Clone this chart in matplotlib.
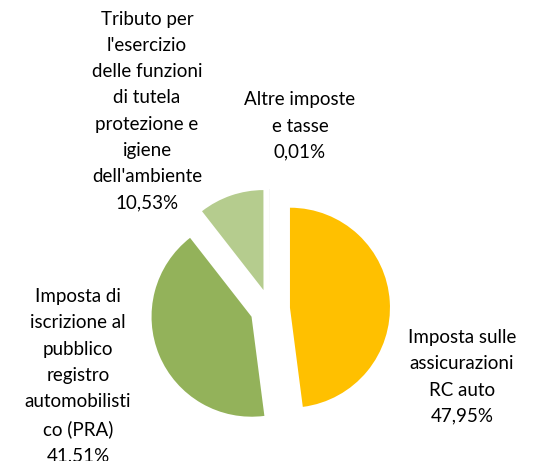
import matplotlib
matplotlib.use("Agg")
import matplotlib.pyplot as plt

categories = ["Imposta sulle\nassicurazioni\nRC auto",
              "Imposta di\niscrizione al\npubblico\nregistro\nautomobilisti\nco (PRA)",
              "Tributo per\nl'esercizio\ndelle funzioni\ndi tutela\nprotezione e\nigiene\ndell'ambiente",
              "Altre imposte\ne tasse"]
values = [47.95, 41.51, 10.53, 0.01]
pct_labels = ["47,95%", "41,51%", "10,53%", "0,01%"]
colors = ["#FFC000", "#93B25A", "#B5CC8E", "#7F7F7F"]

# label centres in pixel coordinates (x, y of the block centre)
label_pos_px = [(462, 377), (78, 376), (147, 111), (300, 126)]

W, H = 538, 461
CX, CY, R = 270, 309, 100

plt.rcParams['font.family'] = ['Lato', 'DejaVu Sans']
fig = plt.figure(figsize=(W / 100, H / 100), dpi=100)
ax = fig.add_axes([0, 0, 1, 1])

ax.pie(values, colors=colors, startangle=90, counterclock=False,
       explode=[0.2] * len(values), radius=1.0, center=(0, 0),
       wedgeprops=dict(linewidth=0), frame=True)
ax.set_xlim(-CX / R, (W - CX) / R)
ax.set_ylim(-(H - CY) / R, CY / R)
ax.axis('off')

for cat, pct, (px, py) in zip(categories, pct_labels, label_pos_px):
    ax.text((px - CX) / R, (CY - py) / R, cat + "\n" + pct,
            ha='center', va='center', multialignment='center',
            fontsize=13.5, color='#000000', linespacing=1.66)

fig.savefig("out.png", dpi=100)
